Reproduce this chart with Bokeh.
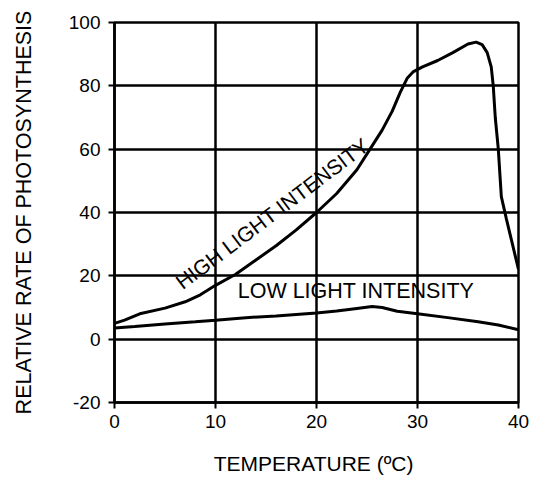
from bokeh.plotting import figure
from bokeh.models import Range1d, FixedTicker
from bokeh.core.properties import value
from bokeh.embed import file_html
from bokeh.resources import INLINE
import math

# Data
high_x = [0, 1, 2.5, 5, 7, 8.5, 10, 12, 14, 16, 18, 20, 22, 24, 25.3, 26.5, 27.5, 28.3, 29, 29.6,
          30.5, 32, 33.5, 35, 35.8, 36.4, 36.9, 37.3, 37.5, 37.7, 38.0, 38.3, 38.8, 39.4, 40]
high_y = [5, 6, 8, 9.8, 11.8, 14, 17, 20.5, 25, 29.5, 34.5, 40, 46, 53.5, 60, 66, 72, 78, 82.5, 84.5,
          86, 88, 90.5, 93.2, 93.8, 93, 90.5, 86, 80, 70, 60, 45, 38, 30, 22]
low_x = [0, 2, 5, 8, 10, 13, 16, 20, 22, 24, 25.5, 26.5, 28, 30, 33, 36, 38, 40]
low_y = [3.5, 4, 4.8, 5.5, 6, 6.8, 7.3, 8.3, 8.9, 9.7, 10.3, 10, 8.8, 8, 6.8, 5.5, 4.5, 3]
x_ticks = [0, 10, 20, 30, 40]
y_ticks = [-20, 0, 20, 40, 60, 80, 100]
high_label = "HIGH LIGHT INTENSITY"
low_label = "LOW LIGHT INTENSITY"
x_title = "TEMPERATURE  (ºC)"
y_title = "RELATIVE RATE OF PHOTOSYNTHESIS"

FONT = "Liberation Sans"

p = figure(width=544, height=479, output_backend="svg", toolbar_location=None,
           x_range=Range1d(0, 40), y_range=Range1d(-20, 100),
           min_border_left=114, min_border_right=26, min_border_top=22, min_border_bottom=77)

p.outline_line_color = "black"
p.outline_line_width = 2.5
p.outline_line_alpha = 1

for g, t in ((p.xgrid, x_ticks), (p.ygrid, y_ticks)):
    g.ticker = FixedTicker(ticks=t)
    g.grid_line_color = "black"
    g.grid_line_width = 2.5
    g.grid_line_alpha = 1

p.xaxis.ticker = FixedTicker(ticks=x_ticks)
p.yaxis.ticker = FixedTicker(ticks=y_ticks)
p.yaxis.major_label_overrides = {t: str(t) for t in y_ticks}
for ax in (p.xaxis, p.yaxis):
    ax.axis_line_color = "black"
    ax.axis_line_width = 2.5
    ax.major_tick_line_color = "black"
    ax.major_tick_line_width = 2
    ax.major_tick_in = 0
    ax.major_tick_out = 6
    ax.minor_tick_line_color = None
    ax.major_label_text_font = FONT
    ax.major_label_text_font_size = "19px"
    ax.major_label_text_color = "black"
    ax.axis_label_text_font = FONT
    ax.axis_label_text_font_style = "normal"
    ax.axis_label_text_color = "black"

p.xaxis.major_label_standoff = 6
p.xaxis.axis_label = x_title
p.xaxis.axis_label_text_font_size = "21px"
p.xaxis.axis_label_standoff = 21
p.yaxis.major_label_standoff = 8
p.yaxis.axis_label = y_title
p.yaxis.axis_label_text_font_size = "21.5px"
p.yaxis.axis_label_standoff = 30

p.line(high_x, high_y, line_color="black", line_width=3)
p.line(low_x, low_y, line_color="black", line_width=3)

p.text(x=[6.3], y=[17.3], text=[high_label], angle=37 * math.pi / 180,
       text_font=value(FONT), text_font_size="21px", text_color="black",
       text_align="left", text_baseline="alphabetic")
p.text(x=[12.2], y=[15.1], text=[low_label],
       text_font=value(FONT), text_font_size="21.5px", text_color="black",
       text_align="left", text_baseline="alphabetic")

open("out.html", "w").write(file_html(p, INLINE))
